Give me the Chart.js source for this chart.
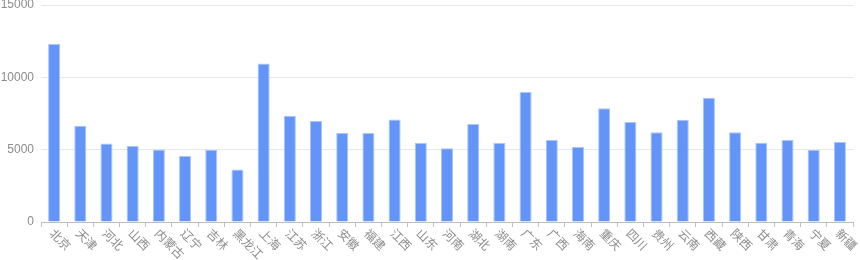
<!DOCTYPE html>
<html>
<head>
<meta charset="utf-8">
<script src="https://cdn.jsdelivr.net/npm/chart.js@4"></script>
<style>
  html, body { margin: 0; padding: 0; background: #fff; }
  #wrap { width: 860px; height: 260px; }
</style>
</head>
<body>
<div id="wrap"><canvas id="chart"></canvas></div>
<script>
const provinces = ['北京', '天津', '河北', '山西', '内蒙古', '辽宁', '吉林', '黑龙江', '上海', '江苏',
    '浙江', '安徽', '福建', '江西', '山东', '河南', '湖北', '湖南', '广东', '广西',
    '海南', '重庆', '四川', '贵州', '云南', '西藏', '陕西', '甘肃', '青海', '宁夏', '新疆'];

const values = [12300, 6660, 5430, 5250, 5020, 4560, 4990, 3630, 10950, 7340,
    6990, 6160, 6160, 7080, 5460, 5090, 6780, 5460, 8980, 5670,
    5180, 7870, 6920, 6200, 7060, 8590, 6200, 5480, 5670, 4980, 5530];

const yTicks = [0, 5000, 10000, 15000];

const labelFont = '12px "Noto Sans CJK SC", "Noto Sans", sans-serif';

// x labels are turned clockwise (reading down to the right), which Chart.js can't do itself
const slantLabels = {
    id: 'slantLabels',
    afterDraw(chart) {
        const ctx = chart.ctx;
        const xScale = chart.scales.x;
        ctx.save();
        ctx.font = labelFont;
        ctx.fillStyle = '#8c8c8c';
        ctx.textAlign = 'left';
        ctx.textBaseline = 'middle';
        xScale.ticks.forEach((t, i) => {
            const x = xScale.getPixelForTick(i);
            ctx.save();
            ctx.translate(x - 2, xScale.top + 9);
            ctx.rotate(Math.PI / 4);
            ctx.fillText(provinces[i], 0, 0);
            ctx.restore();
        });
        ctx.restore();
    }
};

new Chart(document.getElementById('chart').getContext('2d'), {
    type: 'bar',
    data: {
        labels: provinces,
        datasets: [{
            data: values,
            backgroundColor: 'rgba(91, 143, 249, 0.95)',
            borderColor: 'rgba(170, 196, 252, 1)',
            borderWidth: 1,
            barPercentage: 0.46,
            categoryPercentage: 1
        }]
    },
    options: {
        responsive: true,
        maintainAspectRatio: false,
        animation: false,
        layout: { padding: { top: 0, right: 7, bottom: 33, left: 0 } },
        plugins: {
            legend: { display: false },
            tooltip: { enabled: false }
        },
        scales: {
            x: {
                grid: { drawOnChartArea: false, drawTicks: true, tickLength: 5, color: '#bfbfbf' },
                border: { color: '#bfbfbf' },
                ticks: { display: false },
                afterFit: s => { s.paddingLeft = 0; s.paddingRight = 0; }
            },
            y: {
                min: 0,
                max: 15000,
                afterBuildTicks: axis => { axis.ticks = yTicks.map(v => ({ value: v })); },
                afterFit: s => { s.width = 41; s.paddingTop = 5; s.paddingBottom = 0; },
                grid: { color: '#e8e8e8', drawTicks: false },
                border: { display: false },
                ticks: {
                    padding: 7,
                    color: '#8c8c8c',
                    font: { family: '"Liberation Sans", Arial, sans-serif', size: 12 },
                    callback: v => String(v)
                }
            }
        }
    },
    plugins: [slantLabels]
});
</script>
</body>
</html>
